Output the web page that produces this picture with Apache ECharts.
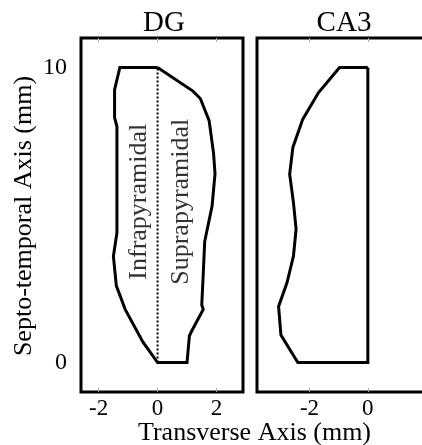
<!DOCTYPE html>
<html>
<head>
<meta charset="utf-8">
<script src="https://cdn.jsdelivr.net/npm/echarts@6/dist/echarts.min.js"></script>
<style>
html,body{margin:0;padding:0;background:#fff;}
#c{width:422px;height:445px;}
</style>
</head>
<body>
<div id="c"></div>
<script>
// ---- data ----
const panelTitles = ['DG', 'CA3'];
const regionLabels = ['Infrapyramidal', 'Suprapyramidal'];
const regionLabelPos = [[-0.62, 5.45], [0.80, 5.45]];
const dgOutline = [
  [0, 10], [1.2, 9.2], [1.45, 8.95], [1.75, 8.2], [1.9, 7.1], [1.95, 6.4],
  [1.85, 5.3], [1.6, 4.1], [1.55, 3.0], [1.5, 1.95], [1.55, 1.8], [1.15, 1.05],
  [1.08, 0.9], [1.0, 0], [0, 0], [-0.5, 0.7], [-1.1, 1.8], [-1.4, 2.6],
  [-1.5, 3.6], [-1.38, 4.4], [-1.38, 8.0], [-1.46, 8.3], [-1.46, 9.25],
  [-1.28, 10], [0, 10]
];
const dgMidline = [[0, 0], [0, 10]];
const ca3Outline = [
  [0, 10], [0, 0], [-2.4, 0], [-2.98, 0.93], [-3.06, 1.9], [-2.77, 2.71],
  [-2.55, 3.61], [-2.46, 4.52], [-2.55, 5.42], [-2.68, 6.38], [-2.57, 7.29],
  [-2.23, 8.25], [-1.69, 9.15], [-0.97, 10], [0, 10]
];
const dgXTicks = [-2, 0, 2];
const ca3XTicks = [-2, 0];
const yTicks = [0, 10];
const xTitle = 'Transverse Axis (mm)';
const yTitle = 'Septo-temporal Axis (mm)';

// ---- chart ----
const FONT = 'Liberation Serif';
const chart = echarts.init(document.getElementById('c'), null, {renderer: 'canvas'});

function xAx(grid, min, max, ticks, pos, labels) {
  return {
    type: 'value', gridIndex: grid, min: min, max: max, position: pos,
    axisLine: {show: false, onZero: false},
    splitLine: {show: false},
    axisTick: {show: true, inside: true, length: 4, customValues: ticks,
               lineStyle: {color: '#aaa', width: 1}},
    axisLabel: {show: labels, customValues: ticks, margin: 5,
                fontFamily: FONT, fontSize: 23, color: '#000'}
  };
}

const titleStyle = {fontFamily: FONT, fontSize: 29, fontWeight: 'normal', color: '#000'};

const option = {
  backgroundColor: '#fff',
  animation: false,
  title: [
    {text: panelTitles[0], left: 159, top: 4, textAlign: 'center', textStyle: titleStyle},
    {text: panelTitles[1], left: 339, top: 4, textAlign: 'center', textStyle: titleStyle}
  ],
  grid: [
    {left: 81, top: 38, width: 162, height: 354, show: true, outerBoundsMode: 'none',
     containLabel: false, borderColor: '#000', borderWidth: 3, backgroundColor: 'transparent'},
    {left: 257, top: 38, width: 175, height: 354, show: true, outerBoundsMode: 'none',
     containLabel: false, borderColor: '#000', borderWidth: 3, backgroundColor: 'transparent'}
  ],
  xAxis: [
    xAx(0, -2.6, 2.9, dgXTicks, 'bottom', true),
    xAx(0, -2.6, 2.9, dgXTicks, 'top', false),
    xAx(1, -3.8, 2.2, ca3XTicks, 'bottom', true),
    xAx(1, -3.8, 2.2, ca3XTicks, 'top', false)
  ],
  yAxis: [
    {type: 'value', gridIndex: 0, min: -1, max: 11,
     axisLine: {show: false, onZero: false}, splitLine: {show: false}, axisTick: {show: false},
     axisLabel: {customValues: yTicks, margin: 14, fontFamily: FONT, fontSize: 24, color: '#000'}},
    {type: 'value', gridIndex: 1, min: -1, max: 11,
     axisLine: {show: false, onZero: false}, splitLine: {show: false}, axisTick: {show: false},
     axisLabel: {show: false}}
  ],
  graphic: [
    {type: 'text', x: 254.5, y: 433,
     style: {text: xTitle, fontFamily: FONT, fontSize: 26, fill: '#000',
             textAlign: 'center', textVerticalAlign: 'middle'}},
    {type: 'text', x: 24, y: 216, rotation: Math.PI / 2,
     style: {text: yTitle, fontFamily: FONT, fontSize: 26, fill: '#000',
             textAlign: 'center', textVerticalAlign: 'middle'}}
  ],
  series: [
    {type: 'line', xAxisIndex: 0, yAxisIndex: 0, data: dgOutline, symbol: 'none',
     lineStyle: {color: '#000', width: 3, join: 'miter'}, silent: true},
    {type: 'line', xAxisIndex: 0, yAxisIndex: 0, data: dgMidline, symbol: 'none',
     lineStyle: {color: '#000', width: 2, type: [2, 2]}, silent: true},
    {type: 'scatter', xAxisIndex: 0, yAxisIndex: 0, symbolSize: 0,
     data: regionLabelPos.map((p, i) => ({value: p, name: regionLabels[i]})),
     label: {show: true, position: 'inside', rotate: 90, formatter: '{b}',
             fontFamily: FONT, fontSize: 26, color: '#000'}, silent: true},
    {type: 'line', xAxisIndex: 2, yAxisIndex: 1, data: ca3Outline, symbol: 'none',
     lineStyle: {color: '#000', width: 3, join: 'miter'}, silent: true}
  ]
};
chart.setOption(option);
</script>
</body>
</html>
